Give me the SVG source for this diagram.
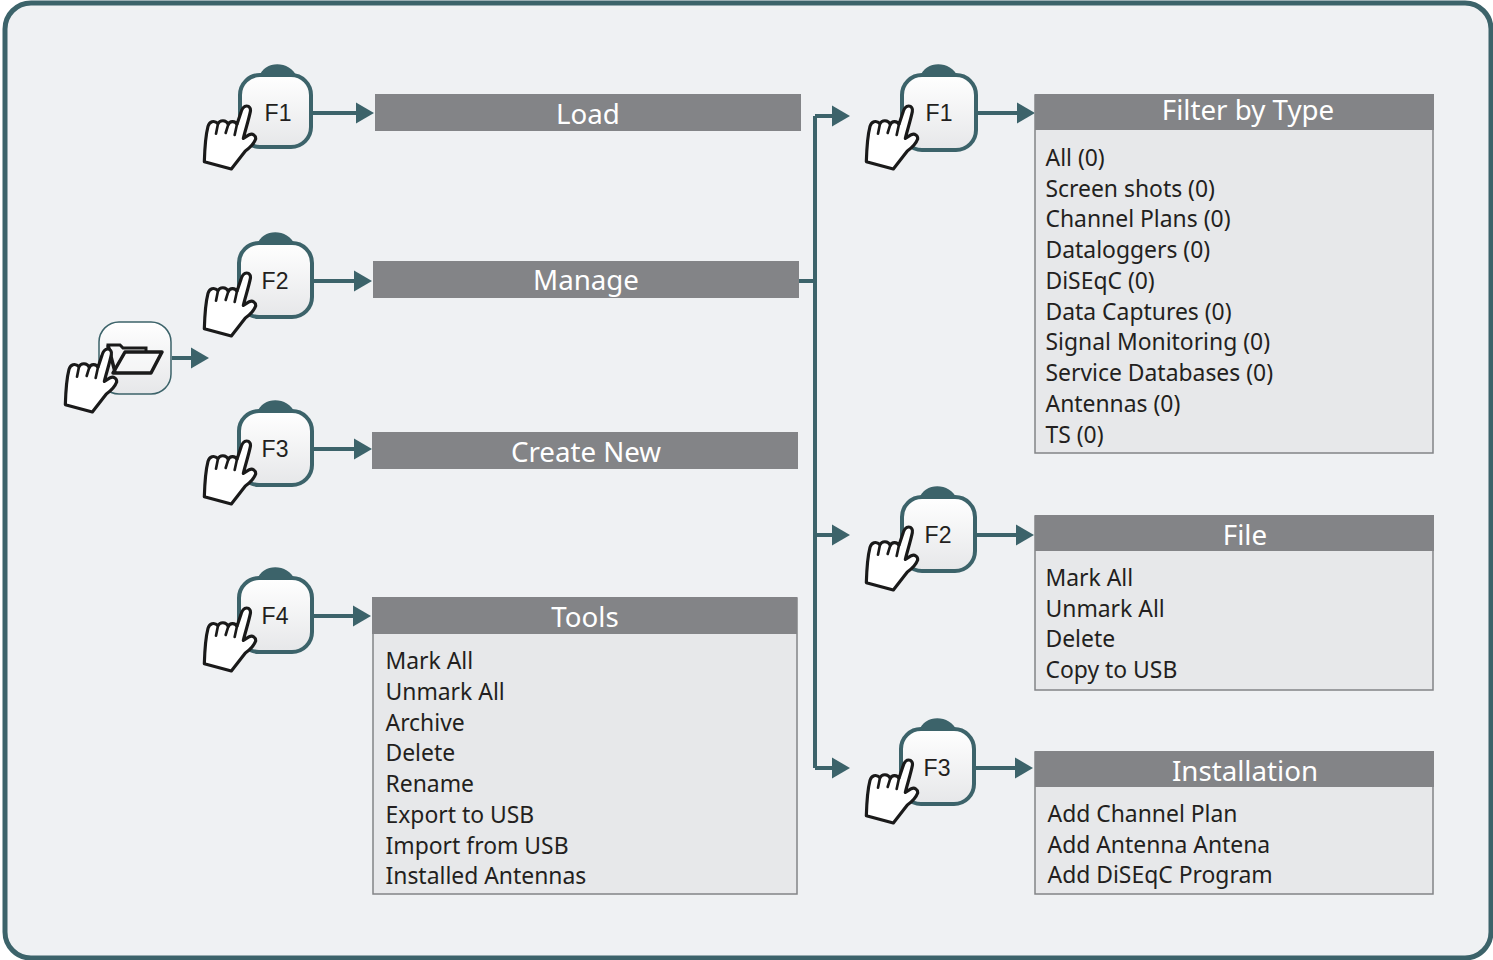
<svg xmlns="http://www.w3.org/2000/svg" width="1493" height="960" viewBox="0 0 1493 960">
<style>
.con{fill:none;stroke:#3c636a;stroke-width:4}
.ah{fill:#3c636a}
.key{fill:url(#kg);stroke:#3c636a;stroke-width:4}
.bump{fill:#3c636a}
.hd{fill:#838487}
.bd{fill:#e7e8ea;stroke:#838487;stroke-width:1.5}
.kt{font:23px "Liberation Sans",Arial,sans-serif;fill:#231f20;text-anchor:middle}
.ht{font:27.7px "Noto Sans",sans-serif;fill:#fff;text-anchor:middle}
.lt{font:22.9px "Noto Sans",sans-serif;fill:#231f20}
</style>
<defs>
<linearGradient id="kg" x1="0" y1="0" x2="0" y2="1"><stop offset="0" stop-color="#fff"/><stop offset="1" stop-color="#e6e7e9"/></linearGradient>
<g id="hand"><path d="M170 153C160 153 155 163 152 175L141 208C136 198 120 196 115 208C108 194 90 194 84 206C72 194 58 200 54 214C46 245 44 285 43 320L124 342L166 288C180 278 192 266 197 252C198 241 188 235 178 239L160 250C166 225 176 195 181 170C183 160 178 153 170 153Z" fill="#fff" stroke="#1a1a1a" stroke-width="9.500" stroke-linejoin="round"/>
<path d="M84 206L78 236M115 208L107 234M141 208L134 240" fill="none" stroke="#1a1a1a" stroke-width="8" stroke-linecap="round"/></g>
<path id="ar" d="M0 -10.500L18 0L0 10.500Z"/>
</defs>
<rect x="5" y="3" width="1486" height="955" rx="26" fill="#eff1f3" stroke="#3c636a" stroke-width="5"/>
<g id="connectors">
<path class="con" d="M312 113H358"/><use href="#ar" class="ah" x="356" y="113"/>
<path class="con" d="M313 281H356"/><use href="#ar" class="ah" x="354" y="281"/>
<path class="con" d="M313 449H356"/><use href="#ar" class="ah" x="354" y="449"/>
<path class="con" d="M313 616H356"/><use href="#ar" class="ah" x="353" y="616"/>
<path class="con" d="M172 358H193"/><use href="#ar" class="ah" x="191" y="358"/>
<path class="con" d="M799 281H815M815 116V768M815 116H835M815 535H835M815 768H835"/>
<use href="#ar" class="ah" x="832" y="116"/><use href="#ar" class="ah" x="832" y="535"/><use href="#ar" class="ah" x="832" y="768"/>
<path class="con" d="M977 113H1020"/><use href="#ar" class="ah" x="1017" y="113"/>
<path class="con" d="M976 535H1018"/><use href="#ar" class="ah" x="1016" y="535"/>
<path class="con" d="M975 768H1018"/><use href="#ar" class="ah" x="1015" y="768"/>
</g>
<g id="key-open"><rect x="99" y="322" width="72" height="72" rx="20" fill="url(#kg)" stroke="#3c636a" stroke-width="1.500"/>
<path d="M108 355V345H120L123 348H146V352" fill="none" stroke="#1a1a1a" stroke-width="3"/>
<path d="M113 373L125 352H162L151 373Z M108 345L115 372" fill="#fff" fill-opacity=".4" stroke="#1a1a1a" stroke-width="3.500" stroke-linejoin="round"/>
<use href="#hand" transform="translate(51,298) scale(.3333)"/></g>
<g id="key-f1-left"><path class="bump" d="M259 77C264 60 290 60 297 77Z"/><rect class="key" x="240" y="75" width="71" height="72" rx="20"/><text class="kt" x="278" y="121">F1</text><use href="#hand" transform="translate(190,55) scale(.3333)"/></g>
<g id="key-f2-left"><path class="bump" d="M257 245C262 228 288 228 295 245Z"/><rect class="key" x="239" y="243" width="73" height="74" rx="20"/><text class="kt" x="275" y="289">F2</text><use href="#hand" transform="translate(190,222) scale(.3333)"/></g>
<g id="key-f3-left"><path class="bump" d="M257 413C262 396 288 396 295 413Z"/><rect class="key" x="239" y="411" width="73" height="74" rx="20"/><text class="kt" x="275" y="457">F3</text><use href="#hand" transform="translate(190,390) scale(.3333)"/></g>
<g id="key-f4-left"><path class="bump" d="M257 580C262 563 288 563 295 580Z"/><rect class="key" x="239" y="578" width="73" height="74" rx="20"/><text class="kt" x="275" y="624">F4</text><use href="#hand" transform="translate(190,557) scale(.3333)"/></g>
<g id="key-f1-right"><path class="bump" d="M920 77C925 60 951 60 958 77Z"/><rect class="key" x="902" y="75" width="74" height="75" rx="20"/><text class="kt" x="939" y="121">F1</text><use href="#hand" transform="translate(852,55) scale(.3333)"/></g>
<g id="key-f2-right"><path class="bump" d="M919 499C924 482 950 482 957 499Z"/><rect class="key" x="902" y="497" width="73" height="74" rx="20"/><text class="kt" x="938" y="543">F2</text><use href="#hand" transform="translate(852,476) scale(.3333)"/></g>
<g id="key-f3-right"><path class="bump" d="M919 731C924 714 950 714 957 731Z"/><rect class="key" x="901" y="729" width="73" height="75" rx="20"/><text class="kt" x="937" y="776">F3</text><use href="#hand" transform="translate(852,709) scale(.3333)"/></g>
<g id="menu-load"><rect class="hd" x="375" y="94" width="426" height="37"/><text class="ht" x="588" y="124">Load</text></g>
<g id="menu-manage"><rect class="hd" x="373" y="261" width="426" height="37"/><text class="ht" x="586" y="290">Manage</text></g>
<g id="menu-create"><rect class="hd" x="372" y="432" width="426" height="37"/><text class="ht" x="586" y="462">Create New</text></g>
<g id="menu-tools"><rect class="bd" x="373" y="598" width="424" height="296"/><rect class="hd" x="372" y="597" width="425" height="37"/><text class="ht" x="585" y="627">Tools</text>
<text class="lt" x="385.500" y="669">Mark All</text><text class="lt" x="385.500" y="700">Unmark All</text><text class="lt" x="385.500" y="731">Archive</text><text class="lt" x="385.500" y="761">Delete</text><text class="lt" x="385.500" y="792">Rename</text><text class="lt" x="385.500" y="823">Export to USB</text><text class="lt" x="385.500" y="854">Import from USB</text><text class="lt" x="385.500" y="884">Installed Antennas</text></g>
<g id="menu-filter"><rect class="bd" x="1035" y="95" width="398" height="358"/><rect class="hd" x="1035" y="94" width="399" height="36"/><text class="ht" x="1248" y="120">Filter by Type</text>
<text class="lt" x="1045.500" y="166">All (0)</text><text class="lt" x="1045.500" y="197">Screen shots (0)</text><text class="lt" x="1045.500" y="227">Channel Plans (0)</text><text class="lt" x="1045.500" y="258">Dataloggers (0)</text><text class="lt" x="1045.500" y="289">DiSEqC (0)</text><text class="lt" x="1045.500" y="320">Data Captures (0)</text><text class="lt" x="1045.500" y="350">Signal Monitoring (0)</text><text class="lt" x="1045.500" y="381">Service Databases (0)</text><text class="lt" x="1045.500" y="412">Antennas (0)</text><text class="lt" x="1045.500" y="443">TS (0)</text></g>
<g id="menu-file"><rect class="bd" x="1035" y="516" width="398" height="174"/><rect class="hd" x="1035" y="515" width="399" height="36"/><text class="ht" x="1245" y="545">File</text>
<text class="lt" x="1045.500" y="586">Mark All</text><text class="lt" x="1045.500" y="617">Unmark All</text><text class="lt" x="1045.500" y="647">Delete</text><text class="lt" x="1045.500" y="678">Copy to USB</text></g>
<g id="menu-install"><rect class="bd" x="1035" y="752" width="398" height="142"/><rect class="hd" x="1035" y="751" width="399" height="36"/><text class="ht" x="1245" y="781">Installation</text>
<text class="lt" x="1047.500" y="822">Add Channel Plan</text><text class="lt" x="1047.500" y="853">Add Antenna Antena</text><text class="lt" x="1047.500" y="883">Add DiSEqC Program</text></g>
</svg>
